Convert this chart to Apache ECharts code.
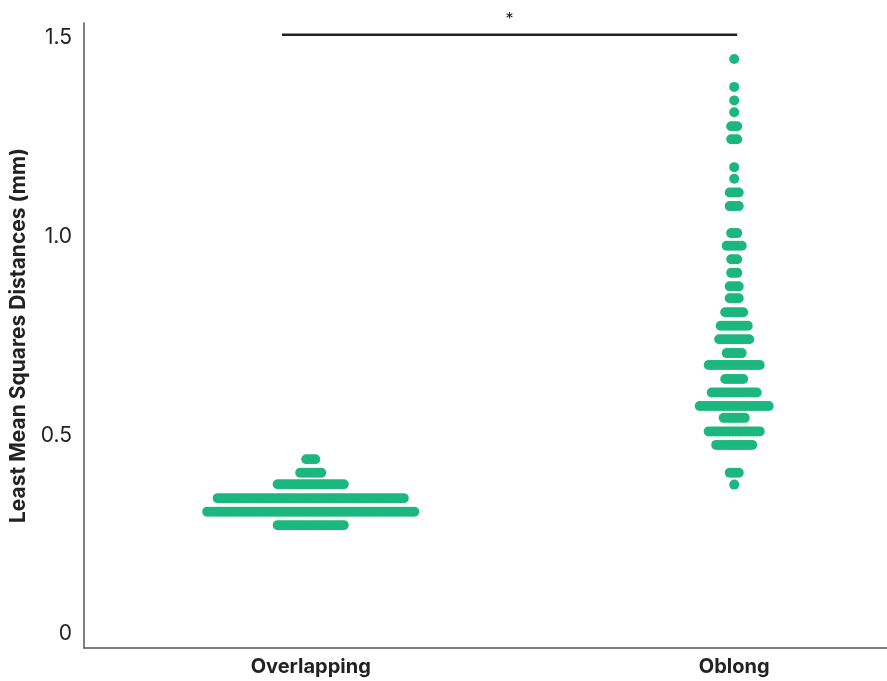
<!DOCTYPE html>
<html>
<head>
<meta charset="utf-8">
<title>Least Mean Squares Distances</title>
<script src="https://cdn.jsdelivr.net/npm/echarts@6/dist/echarts.min.js"></script>
<style>
  html, body { margin: 0; padding: 0; background: #fff; }
  #main { width: 887px; height: 681px; }
</style>
</head>
<body>
<div id="main"></div>
<script>
"use strict";
// groups on the x axis (0 = Overlapping, 1 = Oblong)
var groups = ['Overlapping', 'Oblong'];

// beeswarm rows: y value of each row and how many points sit in it
var overlapRows = [0.440, 0.406, 0.377, 0.342, 0.308, 0.274];
var overlapCounts = [4, 8, 23, 63, 70, 23];

var oblongRows = [1.447, 1.377, 1.343, 1.313, 1.278, 1.245, 1.175, 1.146, 1.111, 1.077,
    1.009, 0.977, 0.943, 0.909, 0.875, 0.845, 0.810, 0.776, 0.742, 0.707,
    0.677, 0.642, 0.608, 0.574, 0.544, 0.510, 0.476, 0.406, 0.376];
var oblongCounts = [1, 1, 1, 1, 3, 3, 1, 1, 4, 4,
    3, 6, 3, 3, 4, 4, 7, 10, 11, 6,
    18, 7, 16, 24, 8, 18, 13, 4, 1];

var yTicks = [0, 0.5, 1.0, 1.5];

// significance bracket between the two groups
var sigBar = { from: -0.068, to: 1.007, y: 1.508, text: '*' };

var green = '#1cb77f';
var dotStep = 3; // px between neighbouring points in a row

// spread every row sideways around its group centre (layout only)
function swarm(groupIdx, rows, counts){
    var out = [];
    for (var r = 0; r < rows.length; r++){
        var n = counts[r];
        for (var i = 0; i < n; i++){
            out.push({
                value: [groupIdx, rows[r]],
                symbolOffset: [(i - (n - 1) / 2) * dotStep, 0]
            });
        }
    }
    return out;
}

var font = 'Inter, "Liberation Sans", sans-serif';

var option = {
    animation: false,
    backgroundColor: '#fff',
    grid: { left: 83, right: 0, top: 23, bottom: 33 },
    xAxis: {
        type: 'value',
        min: -0.5354,
        max: 1.3608,
        splitLine: { show: false },
        axisTick: { show: false },
        axisLine: { show: true, onZero: false, lineStyle: { color: '#555', width: 1.5 } },
        axisLabel: {
            customValues: [0, 1],
            formatter: function(v){ return groups[Math.round(v)]; },
            color: '#222',
            fontFamily: font,
            fontWeight: 'bold',
            fontSize: 20,
            margin: 9
        }
    },
    yAxis: {
        type: 'value',
        min: -0.0352,
        max: 1.5378,
        name: 'Least Mean Squares Distances (mm)',
        nameLocation: 'middle',
        nameGap: 55,
        nameTextStyle: { color: '#222', fontFamily: font, fontWeight: 'bold', fontSize: 21 },
        splitLine: { show: false },
        axisTick: { show: false },
        axisLine: { show: true, onZero: false, lineStyle: { color: '#555', width: 1.5 } },
        axisLabel: {
            customValues: yTicks,
            formatter: function(v){ return v === 0 ? '0' : v.toFixed(1); },
            color: '#222',
            fontFamily: font,
            fontSize: 21,
            margin: 12
        }
    },
    series: [
        {
            type: 'scatter',
            symbolSize: 10,
            itemStyle: { color: green, opacity: 1 },
            data: swarm(0, overlapRows, overlapCounts)
        },
        {
            type: 'scatter',
            symbolSize: 10,
            itemStyle: { color: green, opacity: 1 },
            data: swarm(1, oblongRows, oblongCounts)
        },
        {
            type: 'line',
            symbol: 'none',
            clip: false,
            silent: true,
            lineStyle: { color: '#222', width: 2.5 },
            data: [[sigBar.from, sigBar.y], [sigBar.to, sigBar.y]],
            markPoint: {
                symbol: 'circle',
                symbolSize: 0,
                label: {
                    show: true,
                    formatter: sigBar.text,
                    color: '#222',
                    fontFamily: font,
                    fontSize: 16,
                    offset: [0, -16]
                },
                data: [{ coord: [(sigBar.from + sigBar.to) / 2, sigBar.y] }]
            }
        }
    ]
};

var myChart = echarts.init(document.getElementById('main'));
myChart.setOption(option, true);
</script>
</body>
</html>
